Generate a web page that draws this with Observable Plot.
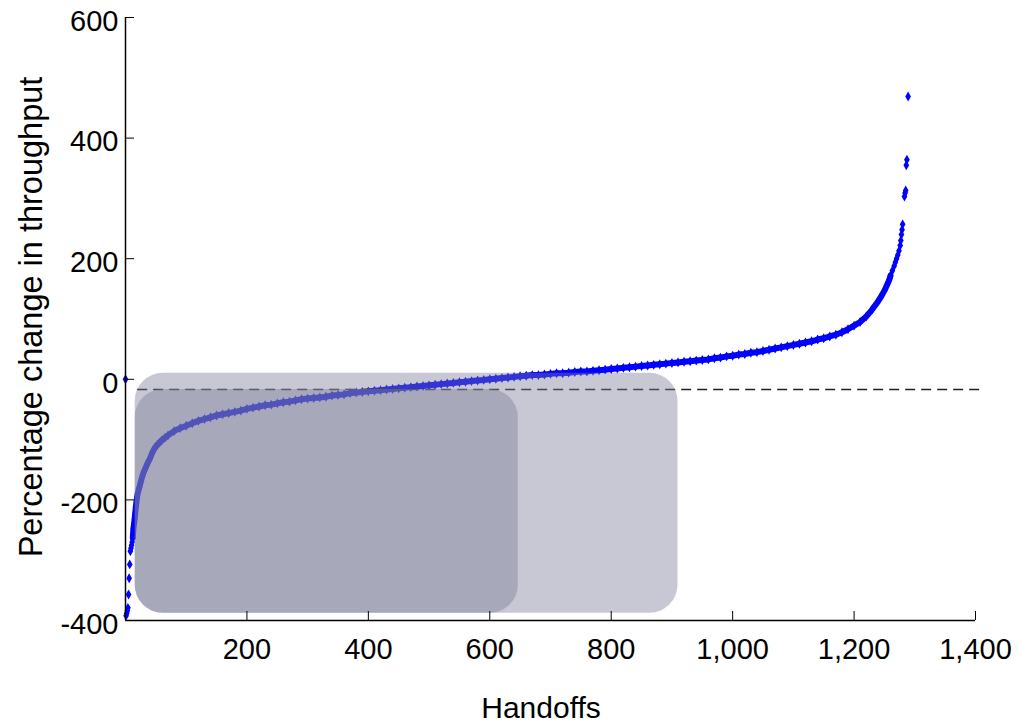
<!DOCTYPE html>
<html><head><meta charset="utf-8">
<script src="https://cdn.jsdelivr.net/npm/d3@7"></script>
<script src="https://cdn.jsdelivr.net/npm/@observablehq/plot@0.6"></script>
<style>body{margin:0;background:#fff} #chart{width:1019px;height:724px}</style>
</head><body><div id="chart"></div><script>
// Sorted handoffs (x) and their percentage change in throughput (y)
const handoffs = [0,1,2,3,4,5,6,7,8,9,10,11,12,13,14,15,16,17,18,19,20,22,24,26,28,30,33,36,40,44,48,52,56,60,65,70,
  80,90,100,110,120,130,140,150,160,170,180,190,200,210,220,230,240,250,260,270,280,290,300,310,320,330,340,350,360,370,380,390,
  400,410,420,430,440,450,460,470,480,490,500,510,520,530,540,550,560,570,580,590,600,610,620,630,640,650,660,670,680,690,
  700,710,720,730,740,750,760,770,780,790,800,810,820,830,840,850,860,870,880,890,900,910,920,930,940,950,960,970,980,990,
  1000,1010,1020,1030,1040,1050,1060,1070,1080,1090,1100,1110,1120,1130,1140,1150,1160,1170,1180,1190,1200,1210,1220,1230,1240,1245,
  1250,1255,1258,1260,1263,1266,1268,1270,1272,1274,1276,1277,1278,1279,1280,1283,1284,1285,1286,1287,1289];
const change = [0,-392,-388,-384,-379,-357,-330,-307,-285,-280,-275,-270,-263,-248,-240,-232,-222,-212,-204,-196,-190,-182,-175,-167,-160,-154,-147,-140,-132,-122,-114,-109,-105,-101,-97,-93,
  -86,-81,-77,-73,-69,-66,-63,-60,-58,-56,-54,-52,-49,-47,-45,-43,-42,-40,-38,-37,-35,-33,-32,-31,-30,-29,-27,-26,-25,-23,-22,-21,
  -20,-19,-18,-17,-16,-15,-14,-13,-12,-11,-10,-9,-8,-7,-6,-5,-4,-3,-2,-1,0,1,2,3,4,5,6,7,7,8,
  9,10,10,11,12,13,13,14,15,16,17,18,19,20,21,22,23,24,25,26,27,28,29,30,31,32,33,35,36,38,
  39,41,42,44,45,47,49,51,53,55,57,59,61,63,66,68,71,74,78,83,89,95,104,116,130,138,
  147,158,165,172,180,188,194,200,206,213,222,230,240,248,257,303,309,313,355,364,469];

// Axis ticks
const xTicks = [200,400,600,800,1000,1200,1400];
const yTicks = [-400,-200,0,200,400,600];

// Dashed reference line
const dashY = -17, dashX1 = 20, dashX2 = 1415;

// Shaded rounded regions
const rectX1 = [16,16], rectX2 = [910,647], rectY1 = [-388,-388], rectY2 = [10,-17];

const data = handoffs.map((h,i)=>({h, v: change[i]}));
const rects = rectX1.map((d,i)=>({x1:d, x2:rectX2[i], y1:rectY1[i], y2:rectY2[i]}));
const FONT = '"Liberation Sans Narrow","Arial Narrow","Liberation Sans",Arial,sans-serif';
const FS = 29;

const plot = Plot.plot({
  width:1019, height:724, marginLeft:125, marginRight:44, marginTop:17, marginBottom:104,
  style:{fontFamily:FONT, fontSize:FS+"px", background:"white", overflow:"visible", color:"black"},
  x:{domain:[0,1400]}, y:{domain:[-400,600]},
  marks:[
    Plot.line(data.filter(d=>d.h>=12 && d.h<=1262), {x:"h", y:"v", stroke:"#0000ff", strokeWidth:6}),
    Plot.dot(data, {x:"h", y:"v", symbol:"diamond", r:3, fill:"#0000ff"}),
    Plot.ruleY([dashY], {x1:dashX1, x2:dashX2, stroke:"#222", strokeWidth:1.5, strokeDasharray:"10,6"}),
    Plot.rect(rects, {x1:"x1", x2:"x2", y1:"y1", y2:"y2", fill:"#7c7c99", fillOpacity:0.42, rx:28}),
    Plot.ruleX([0], {stroke:"black", strokeWidth:1.5}),
    Plot.ruleY([-400], {stroke:"black", strokeWidth:1.5}),
    Plot.axisX({ticks:xTicks, tickSize:0, tickPadding:18, tickFormat:d3.format(","), fontSize:FS, label:null}),
    Plot.axisX({ticks:xTicks, tickSize:-9, tickFormat:()=>"", label:null, stroke:"black"}),
    Plot.axisY({ticks:yTicks, tickSize:0, tickPadding:7, tickFormat:d=>String(d), fontSize:FS, label:null, dy:4}),
    Plot.axisY({ticks:yTicks, tickSize:-9, tickFormat:()=>"", label:null, stroke:"black"})
  ]
});
const svg = d3.select(plot);
svg.append("text").attr("x",541).attr("y",718).attr("text-anchor","middle")
  .attr("font-family",FONT).attr("font-size",30).attr("fill","black").text("Handoffs");
svg.append("text").attr("transform","translate(42,317) rotate(-90)").attr("text-anchor","middle")
  .attr("font-family",FONT).attr("font-size",32.5).attr("fill","black").text("Percentage change in throughput");
document.getElementById("chart").appendChild(plot);
</script></body></html>
